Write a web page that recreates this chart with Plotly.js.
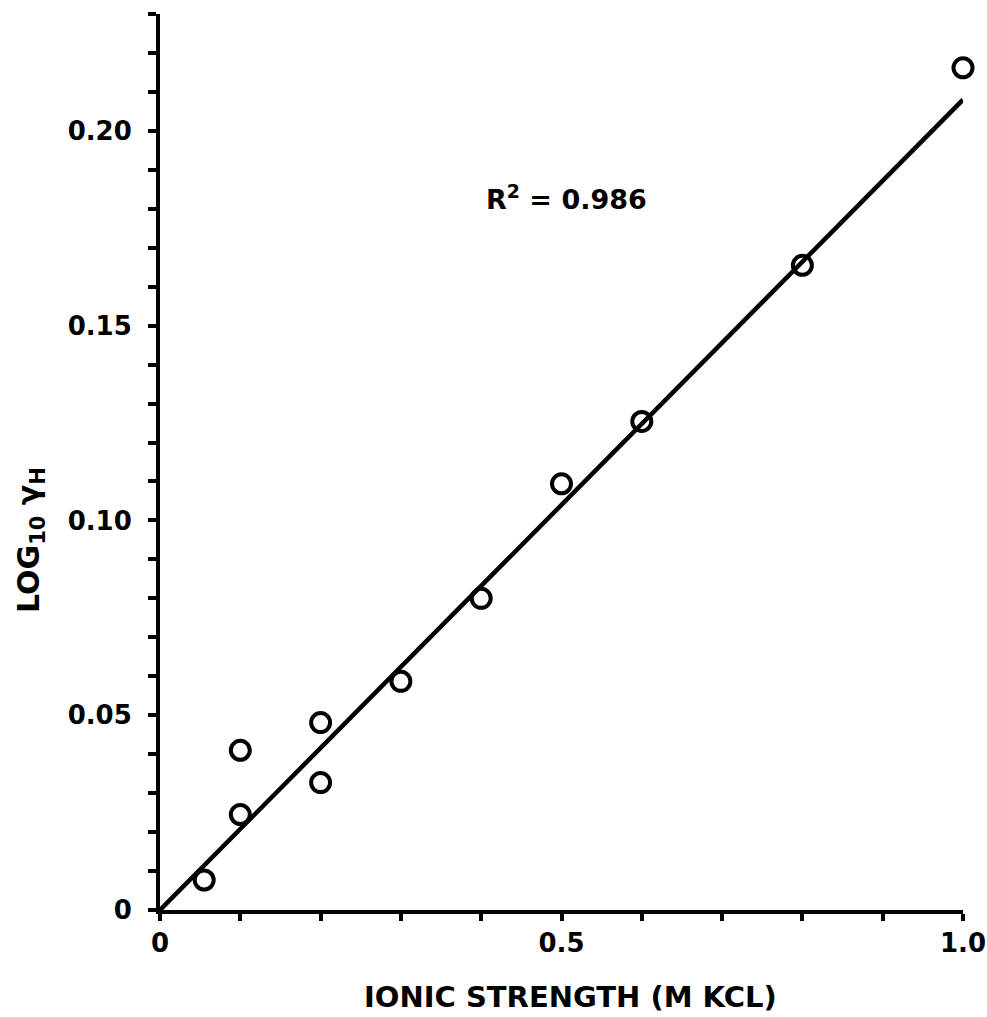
<!DOCTYPE html>
<html>
<head>
<meta charset="utf-8">
<script src="https://cdn.plot.ly/plotly-3.0.1.min.js"></script>
<style>html,body{margin:0;padding:0;background:#fff;}#chart{width:987px;height:1017px;}</style>
</head>
<body>
<div id="chart"></div>
<script>
// Data
const ionicStrength = [0.055, 0.10, 0.10, 0.20, 0.20, 0.30, 0.40, 0.50, 0.60, 0.80, 1.00];
const logGammaH     = [0.0077, 0.0410, 0.0245, 0.0481, 0.0327, 0.0587, 0.0800, 0.1094, 0.1254, 0.1655, 0.2162];
const fitX = [0, 1.0];
const fitY = [0, 0.208];

const xTickVals = [0, 0.5, 1.0];
const xTickText = ["0", "0.5", "1.0"];
const xMinorStep = 0.1;
const yTickVals = [0, 0.05, 0.10, 0.15, 0.20];
const yTickText = ["0", "0.05", "0.10", "0.15", "0.20"];
const yMinorStep = 0.01;

const rSquaredLabel = "R<sup>2</sup> = 0.986";
const xTitle = "IONIC STRENGTH (M KCL)";
const yTitle = "LOG<sub>10</sub> γ<sub>H</sub>";

const fontFamily = "DejaVu Sans, sans-serif";

const traces = [
  {
    x: fitX, y: fitY, type: 'scatter', mode: 'lines',
    line: {color: '#000', width: 4.5},
    hoverinfo: 'skip', showlegend: false
  },
  {
    x: ionicStrength, y: logGammaH, type: 'scatter', mode: 'markers',
    marker: {symbol: 'circle-open', size: 19, color: '#000', line: {width: 4, color: '#000'}},
    cliponaxis: false, showlegend: false
  }
];

const layout = {
  width: 987, height: 1017,
  paper_bgcolor: '#fff', plot_bgcolor: '#fff',
  margin: {l: 160, r: 24, t: 14, b: 107},
  showlegend: false,
  font: {family: fontFamily, color: '#000', size: 24},
  xaxis: {
    range: [0, 1.0], showgrid: false, zeroline: false,
    showline: true, linewidth: 4, linecolor: '#000',
    ticks: 'outside', ticklen: 7, tickwidth: 4, tickcolor: '#000',
    tickmode: 'array', tickvals: xTickVals, ticktext: xTickText,
    minor: {tick0: 0, dtick: xMinorStep, ticks: 'outside', ticklen: 7, tickwidth: 4, tickcolor: '#000', showgrid: false},
    ticklabelstandoff: 0,
    tickfont: {family: fontFamily, size: 26, color: '#000', weight: 'bold'}
  },
  yaxis: {
    range: [0, 0.23], showgrid: false, zeroline: false,
    showline: true, linewidth: 4, linecolor: '#000',
    ticks: 'outside', ticklen: 8, tickwidth: 4, tickcolor: '#000',
    tickmode: 'array', tickvals: yTickVals, ticktext: yTickText,
    minor: {tick0: 0, dtick: yMinorStep, ticks: 'outside', ticklen: 8, tickwidth: 4, tickcolor: '#000', showgrid: false},
    ticklabelstandoff: 11,
    tickfont: {family: fontFamily, size: 26, color: '#000', weight: 'bold'}
  },
  annotations: [
    {
      x: 0.506, y: 0.183, xref: 'x', yref: 'y', text: rSquaredLabel,
      xanchor: 'center', yanchor: 'middle',
      showarrow: false, font: {family: fontFamily, size: 27, color: '#000', weight: 'bold'}
    },
    {
      x: 0, y: 0, xref: 'paper', yref: 'paper', text: xTitle,
      xanchor: 'center', yanchor: 'middle',
      showarrow: false, font: {family: fontFamily, size: 29, color: '#000', weight: 'bold'}
    },
    {
      x: 0, y: 0, xref: 'paper', yref: 'paper', text: yTitle, textangle: -90,
      xanchor: 'center', yanchor: 'middle',
      showarrow: false, font: {family: fontFamily, size: 30, color: '#000', weight: 'bold'}
    }
  ]
};

// Convert pixel placements of the title annotations to paper coords
const plotW = 987 - 160 - 24, plotH = 1017 - 14 - 107;
layout.annotations[1].x = (570 - 160) / plotW;
layout.annotations[1].y = (910 - 997) / plotH;
layout.annotations[2].x = (30 - 160) / plotW;
layout.annotations[2].y = (910 - 540) / plotH;

Plotly.newPlot('chart', traces, layout, {displayModeBar: false, staticPlot: true});
</script>
</body>
</html>
